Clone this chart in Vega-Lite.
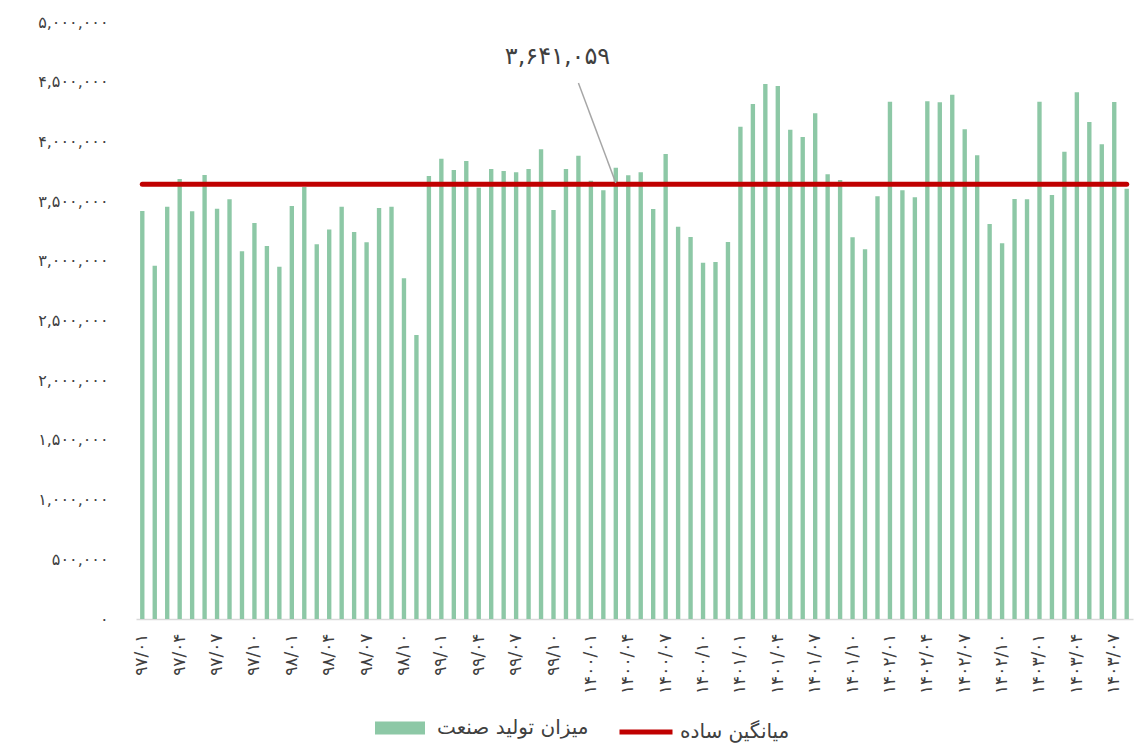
{
  "$schema": "https://vega.github.io/schema/vega-lite/v6.json",
  "width": 997,
  "height": 597,
  "autosize": {"type": "none"},
  "padding": {"left": 136, "top": 22, "right": 10, "bottom": 124},
  "background": "white",
  "config": {
    "view": {"stroke": null},
    "font": "DejaVu Sans",
    "locale": {"number": {"decimal": ".", "thousands": ",", "grouping": [3], "currency": ["", ""], "numerals": ["۰","۱","۲","۳","۴","۵","۶","۷","۸","۹"]}},
    "axisY": {"domain": false, "ticks": false, "grid": false, "tickCount": 10, "labelExpr": "format(datum.value, ',')", "labelPadding": 28, "labelFontSize": 16, "labelColor": "#404040"},
    "axisX": {"labelAngle": -90, "ticks": false, "tickSize": 0, "labelPadding": 14, "domainColor": "#d9d9d9", "domainWidth": 1.5, "labelFontSize": 17, "labelColor": "#404040", "labelAlign": "right", "labelBaseline": "middle"}
  },
  "datasets": {
    "main": [
      {"m":"۹۷/۰۱","v":3417000,"avg":3641059},{"m":"۹۷/۰۲","v":2959000,"avg":3641059},{"m":"۹۷/۰۳","v":3453000,"avg":3641059},{"m":"۹۷/۰۴","v":3685000,"avg":3641059},{"m":"۹۷/۰۵","v":3414000,"avg":3641059},{"m":"۹۷/۰۶","v":3719000,"avg":3641059},{"m":"۹۷/۰۷","v":3436000,"avg":3641059},{"m":"۹۷/۰۸","v":3515000,"avg":3641059},{"m":"۹۷/۰۹","v":3080000,"avg":3641059},{"m":"۹۷/۱۰","v":3317000,"avg":3641059},{"m":"۹۷/۱۱","v":3124000,"avg":3641059},{"m":"۹۷/۱۲","v":2951000,"avg":3641059},
      {"m":"۹۸/۰۱","v":3459000,"avg":3641059},{"m":"۹۸/۰۲","v":3618000,"avg":3641059},{"m":"۹۸/۰۳","v":3138000,"avg":3641059},{"m":"۹۸/۰۴","v":3262000,"avg":3641059},{"m":"۹۸/۰۵","v":3453000,"avg":3641059},{"m":"۹۸/۰۶","v":3241000,"avg":3641059},{"m":"۹۸/۰۷","v":3155000,"avg":3641059},{"m":"۹۸/۰۸","v":3442000,"avg":3641059},{"m":"۹۸/۰۹","v":3453000,"avg":3641059},{"m":"۹۸/۱۰","v":2853000,"avg":3641059},{"m":"۹۸/۱۱","v":2379000,"avg":3641059},{"m":"۹۸/۱۲","v":3710000,"avg":3641059},
      {"m":"۹۹/۰۱","v":3855000,"avg":3641059},{"m":"۹۹/۰۲","v":3760000,"avg":3641059},{"m":"۹۹/۰۳","v":3836000,"avg":3641059},{"m":"۹۹/۰۴","v":3612000,"avg":3641059},{"m":"۹۹/۰۵","v":3769000,"avg":3641059},{"m":"۹۹/۰۶","v":3752000,"avg":3641059},{"m":"۹۹/۰۷","v":3741000,"avg":3641059},{"m":"۹۹/۰۸","v":3769000,"avg":3641059},{"m":"۹۹/۰۹","v":3934000,"avg":3641059},{"m":"۹۹/۱۰","v":3425000,"avg":3641059},{"m":"۹۹/۱۱","v":3769000,"avg":3641059},{"m":"۹۹/۱۲","v":3880000,"avg":3641059},
      {"m":"۱۴۰۰/۰۱","v":3671000,"avg":3641059},{"m":"۱۴۰۰/۰۲","v":3590000,"avg":3641059},{"m":"۱۴۰۰/۰۳","v":3780000,"avg":3641059},{"m":"۱۴۰۰/۰۴","v":3716000,"avg":3641059},{"m":"۱۴۰۰/۰۵","v":3741000,"avg":3641059},{"m":"۱۴۰۰/۰۶","v":3434000,"avg":3641059},{"m":"۱۴۰۰/۰۷","v":3894000,"avg":3641059},{"m":"۱۴۰۰/۰۸","v":3286000,"avg":3641059},{"m":"۱۴۰۰/۰۹","v":3199000,"avg":3641059},{"m":"۱۴۰۰/۱۰","v":2984000,"avg":3641059},{"m":"۱۴۰۰/۱۱","v":2990000,"avg":3641059},{"m":"۱۴۰۰/۱۲","v":3157000,"avg":3641059},
      {"m":"۱۴۰۱/۰۱","v":4123000,"avg":3641059},{"m":"۱۴۰۱/۰۲","v":4313000,"avg":3641059},{"m":"۱۴۰۱/۰۳","v":4481000,"avg":3641059},{"m":"۱۴۰۱/۰۴","v":4464000,"avg":3641059},{"m":"۱۴۰۱/۰۵","v":4098000,"avg":3641059},{"m":"۱۴۰۱/۰۶","v":4037000,"avg":3641059},{"m":"۱۴۰۱/۰۷","v":4235000,"avg":3641059},{"m":"۱۴۰۱/۰۸","v":3724000,"avg":3641059},{"m":"۱۴۰۱/۰۹","v":3677000,"avg":3641059},{"m":"۱۴۰۱/۱۰","v":3197000,"avg":3641059},{"m":"۱۴۰۱/۱۱","v":3096000,"avg":3641059},{"m":"۱۴۰۱/۱۲","v":3540000,"avg":3641059},
      {"m":"۱۴۰۲/۰۱","v":4333000,"avg":3641059},{"m":"۱۴۰۲/۰۲","v":3590000,"avg":3641059},{"m":"۱۴۰۲/۰۳","v":3532000,"avg":3641059},{"m":"۱۴۰۲/۰۴","v":4336000,"avg":3641059},{"m":"۱۴۰۲/۰۵","v":4327000,"avg":3641059},{"m":"۱۴۰۲/۰۶","v":4391000,"avg":3641059},{"m":"۱۴۰۲/۰۷","v":4101000,"avg":3641059},{"m":"۱۴۰۲/۰۸","v":3884000,"avg":3641059},{"m":"۱۴۰۲/۰۹","v":3308000,"avg":3641059},{"m":"۱۴۰۲/۱۰","v":3147000,"avg":3641059},{"m":"۱۴۰۲/۱۱","v":3518000,"avg":3641059},{"m":"۱۴۰۲/۱۲","v":3515000,"avg":3641059},
      {"m":"۱۴۰۳/۰۱","v":4333000,"avg":3641059},{"m":"۱۴۰۳/۰۲","v":3551000,"avg":3641059},{"m":"۱۴۰۳/۰۳","v":3914000,"avg":3641059},{"m":"۱۴۰۳/۰۴","v":4411000,"avg":3641059},{"m":"۱۴۰۳/۰۵","v":4163000,"avg":3641059},{"m":"۱۴۰۳/۰۶","v":3976000,"avg":3641059},{"m":"۱۴۰۳/۰۷","v":4330000,"avg":3641059},{"m":"۱۴۰۳/۰۸","v":3604000,"avg":3641059}
    ],
    "note": [{"label": "۳,۶۴۱,۰۵۹", "m": "۹۹/۱۰", "v": 4707000}],
    "leader": [{"m1": "۹۹/۱۲", "v1": 4489000, "m2": "۱۴۰۰/۰۳", "v2": 3652000}]
  },
  "layer": [
    {
      "data": {"name": "main"},
      "mark": {"type": "bar"},
      "encoding": {
        "x": {
          "field": "m", "type": "ordinal", "sort": null, "title": null,
          "scale": {"paddingInner": 0.65, "paddingOuter": 0.33},
          "axis": {
            "values": ["۹۷/۰۱","۹۷/۰۴","۹۷/۰۷","۹۷/۱۰","۹۸/۰۱","۹۸/۰۴","۹۸/۰۷","۹۸/۱۰","۹۹/۰۱","۹۹/۰۴","۹۹/۰۷","۹۹/۱۰","۱۴۰۰/۰۱","۱۴۰۰/۰۴","۱۴۰۰/۰۷","۱۴۰۰/۱۰","۱۴۰۱/۰۱","۱۴۰۱/۰۴","۱۴۰۱/۰۷","۱۴۰۱/۱۰","۱۴۰۲/۰۱","۱۴۰۲/۰۴","۱۴۰۲/۰۷","۱۴۰۲/۱۰","۱۴۰۳/۰۱","۱۴۰۳/۰۴","۱۴۰۳/۰۷"]
          }
        },
        "y": {
          "field": "v", "type": "quantitative", "title": null,
          "scale": {"domain": [0, 5000000]}
        },
        "fill": {
          "datum": "میزان تولید صنعت",
          "scale": {"range": ["#8dc8a6"]},
          "legend": {
            "orient": "none", "legendX": 239, "legendY": 681, "title": null, "padding": 0,
            "symbolType": "M-1,-0.26H1V0.26H-1Z", "symbolSize": 2500, "symbolStrokeWidth": 0,
            "labelFontSize": 20, "labelColor": "#404040", "labelOffset": 12
          }
        }
      }
    },
    {
      "data": {"name": "main"},
      "mark": {"type": "line", "strokeWidth": 5, "strokeCap": "round"},
      "encoding": {
        "x": {"field": "m", "type": "ordinal", "sort": null, "title": null},
        "y": {"field": "avg", "type": "quantitative", "title": null},
        "stroke": {
          "datum": "میانگین ساده",
          "scale": {"range": ["#c00000"]},
          "legend": {
            "orient": "none", "legendX": 481, "legendY": 681, "title": null, "padding": 0,
            "symbolType": "stroke", "symbolSize": 2809, "symbolStrokeWidth": 5,
            "labelFontSize": 20, "labelColor": "#404040", "labelOffset": 5
          }
        }
      }
    },
    {
      "data": {"name": "leader"},
      "mark": {"type": "rule", "color": "#a6a6a6", "strokeWidth": 1.5},
      "encoding": {
        "x": {"field": "m1", "type": "ordinal", "sort": null, "title": null},
        "y": {"field": "v1", "type": "quantitative", "title": null},
        "x2": {"field": "m2"},
        "y2": {"field": "v2"}
      }
    },
    {
      "data": {"name": "note"},
      "mark": {"type": "text", "fontSize": 24, "color": "#404040", "dx": 4, "baseline": "middle", "align": "center"},
      "encoding": {
        "x": {"field": "m", "type": "ordinal", "sort": null, "title": null},
        "y": {"field": "v", "type": "quantitative", "title": null},
        "text": {"field": "label"}
      }
    }
  ]
}
